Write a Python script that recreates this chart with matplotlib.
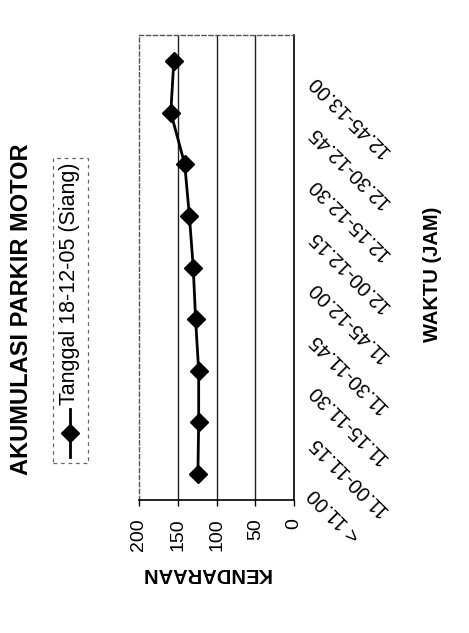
import matplotlib
matplotlib.use("Agg")
import matplotlib.pyplot as plt
from matplotlib.lines import Line2D
from matplotlib.patches import Rectangle

plt.rcParams['font.family'] = ['Liberation Sans', 'DejaVu Sans']

# Parking accumulation (motorcycles) per 15-minute interval
categories = ["< 11.00", "11.00-11.15", "11.15-11.30", "11.30-11.45", "11.45-12.00",
              "12.00-12.15", "12.15-12.30", "12.30-12.45", "12.45-13.00"]
kendaraan = [124, 123, 123, 127, 130, 135, 141, 159, 155]
value_ticks = [0, 50, 100, 150, 200]
series_label = "Tanggal 18-12-05 (Siang)"
title = "AKUMULASI PARKIR MOTOR"
x_title = "WAKTU (JAM)"
y_title = "KENDARAAN"

W, H = 469, 633
fig = plt.figure(figsize=(W / 100, H / 100), dpi=100)
fig.patch.set_facecolor("white")


def fx(px):
    return px / W


def fy(py):
    return 1 - py / H


# The chart is laid out turned a quarter turn: values run right-to-left,
# time categories run bottom-to-top.
ax = fig.add_axes([fx(139), fy(500), fx(155), 465 / H])
ax.set_facecolor("white")

pos = list(range(len(categories)))
ax.plot(kendaraan, pos, color="black", lw=2.0, marker="D", markersize=9,
        markerfacecolor="black", markeredgecolor="black", zorder=3)

ax.set_xlim(200, 0)
ax.set_ylim(-0.5, len(categories) - 0.5)

ax.set_xticks(value_ticks)
ax.set_xticklabels([str(v) for v in value_ticks], rotation=90, fontsize=14,
                   va="top", ha="center")
ax.tick_params(axis="x", direction="out", length=4, width=1, pad=9, colors="black")
ax.set_yticks([])

for v in value_ticks[1:-1]:
    ax.axvline(v, color="#222222", lw=1.0, zorder=1)

for side in ("left", "top"):
    ax.spines[side].set_linestyle((0, (3, 2)))
    ax.spines[side].set_color("#555555")
    ax.spines[side].set_linewidth(1.0)
for side in ("right", "bottom"):
    ax.spines[side].set_color("black")
    ax.spines[side].set_linewidth(1.2)

# Category labels along the right-hand (time) axis
for i, lab in enumerate(categories):
    ax.annotate(lab, xy=(1, i), xycoords=("axes fraction", "data"),
                xytext=(17, -17), textcoords="offset pixels",
                rotation=135, rotation_mode="anchor", ha="right", va="center",
                fontsize=14.5, color="black", annotation_clip=False)

# Titles
fig.text(fx(22), fy(309), title, rotation=90, fontsize=17, fontweight="bold",
         ha="center", va="center")
fig.text(fx(432), fy(274), x_title, rotation=90, fontsize=14.5, fontweight="bold",
         ha="center", va="center")
fig.text(fx(206), fy(574), y_title, rotation=180, fontsize=14.5, fontweight="bold",
         ha="center", va="center")

# Legend box
fig.patches.append(Rectangle((fx(53), fy(463)), fx(88) - fx(53), fy(158) - fy(463),
                             transform=fig.transFigure, fill=False,
                             edgecolor="#666666", lw=0.9, linestyle=(0, (3, 3))))
fig.lines.append(Line2D([fx(70), fx(70)], [fy(457), fy(409)], transform=fig.transFigure,
                        color="black", lw=2.0))
fig.lines.append(Line2D([fx(70)], [fy(433)], transform=fig.transFigure, color="black",
                        marker="D", markersize=9, linestyle="none"))
fig.text(fx(70), fy(405), series_label, rotation=90, rotation_mode="anchor",
         fontsize=15.5, ha="left", va="center")

fig.savefig("out.png", dpi=100, facecolor="white")
